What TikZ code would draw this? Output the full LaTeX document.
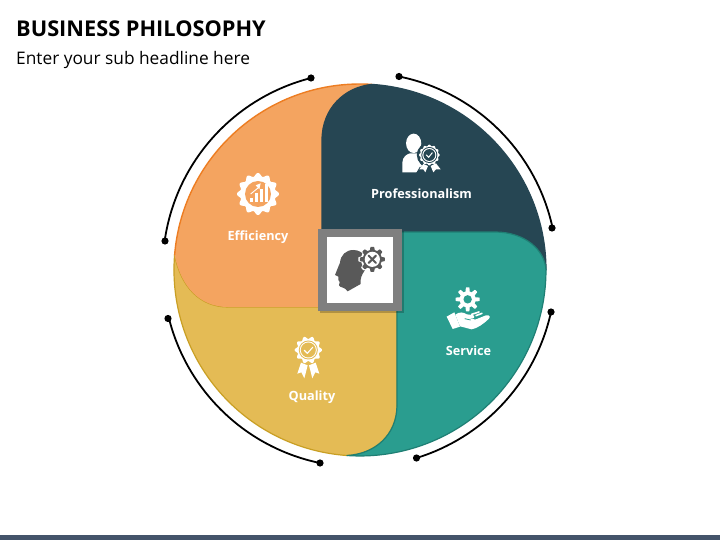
\documentclass[tikz,border=0pt]{standalone}
\usepackage{fontspec}
\setmainfont{Open Sans}
\definecolor{orangefill}{HTML}{F4A460}
\definecolor{orangeedge}{HTML}{ED7D22}
\definecolor{darkfill}{HTML}{264653}
\definecolor{tealfill}{HTML}{2A9D8F}
\definecolor{tealedge}{HTML}{1F7F74}
\definecolor{yellowfill}{HTML}{E4BB55}
\definecolor{yellowedge}{HTML}{C99F24}
\definecolor{iconGray}{HTML}{595959}
\definecolor{frameGray}{HTML}{7F7F7F}
\definecolor{barblue}{HTML}{44546A}
\tikzset{
  petal/.style={line width=1.2pt,line join=round},
  ringarc/.style={line width=1.8pt,black},
  ringdot/.style={circle,fill=black,inner sep=0pt,minimum size=7.2pt},
  petallabel/.style={text=white,font=\fontsize{12.7}{15}\selectfont\bfseries},
  iconzoom/.style={x=0.3333pt,y=-0.3333pt}
}
\newcommand{\mygear}[7]{% cx cy R a n color phase
  \fill[#6,shift={(#1,#2)}] plot[domain=0:360,samples=241,smooth] (\x:{#3+#4*min(1,max(-1,2.2*cos(#5*\x+#7)))}) -- cycle;}
\newcommand{\myrosette}[6]{% cx cy R a n color
  \fill[#6,shift={(#1,#2)}] plot[domain=0:360,samples=181,smooth] (\x:{#3+#4*cos(#5*\x)}) -- cycle;}
\begin{document}
\begin{tikzpicture}[x=1pt,y=1pt]
\useasboundingbox (0,0) rectangle (720,-540);
\fill[white] (0,0) rectangle (720,-540);
\fill[barblue] (0,-535) rectangle (720,-540);
\coordinate (c) at (360,-270);
\node[anchor=west,inner sep=0pt,font=\fontsize{21.75}{24}\selectfont\bfseries] (title) at (16,-28.5) {BUSINESS PHILOSOPHY};
\node[anchor=west,inner sep=0pt,font=\fontsize{17.3}{20}\selectfont] (sub) at (16,-60) {Enter your sub headline here};

% petals
\draw[petal,fill=yellowfill,draw=yellowedge]
  (174.6,-255) .. controls (181,-287) and (200,-307) .. (228,-307) -- (397,-307) -- (397,-405)
  .. controls (397,-435) and (375,-454) .. (347,-455.5)
  arc[start angle=266,end angle=175.4,radius=186];
\fill[orangefill]
  (174.6,-255) .. controls (181,-287) and (200,-307) .. (228,-307) -- (322,-307) -- (322,-140)
  .. controls (322,-108) and (345,-87) .. (372,-84.4)
  arc[start angle=86.3,end angle=175.4,radius=186] -- cycle;
\draw[line width=1.4pt,orangeedge] (372,-84.4) arc[start angle=86.3,end angle=175.4,radius=186];
\draw[petal,fill=darkfill,draw=darkfill]
  (372,-84.4) arc[start angle=86.3,end angle=0,radius=186]
  .. controls (545,-250) and (525,-232) .. (495,-232) -- (322,-232) -- (322,-140)
  .. controls (322,-108) and (345,-87) .. (372,-84.4) -- cycle;
\draw[petal,fill=tealfill,draw=tealedge]
  (546,-270) .. controls (545,-250) and (525,-232) .. (495,-232) -- (397,-232) -- (397,-405)
  .. controls (397,-435) and (375,-454) .. (347,-455.5)
  arc[start angle=266,end angle=360,radius=186] -- cycle;

% outer ring pieces
\node[ringdot] (o1) at (311,-78) {};
\node[ringdot] (o2) at (165,-241) {};
\node[ringdot] (d1) at (399,-76.5) {};
\node[ringdot] (d2) at (552,-228) {};
\node[ringdot] (t1) at (551,-312) {};
\node[ringdot] (t2) at (416.5,-458) {};
\node[ringdot] (y1) at (320,-463) {};
\node[ringdot] (y2) at (168,-318.5) {};
\draw[ringarc] (o1.center) arc[start angle=104.3,end angle=171.5,radius=197];
\draw[ringarc] (d1.center) arc[start angle=78.6,end angle=12.3,radius=197];
\draw[ringarc] (t1.center) arc[start angle=-12.4,end angle=-73.4,radius=197];
\draw[ringarc] (y1.center) arc[start angle=-101.7,end angle=-166,radius=197];

% labels
\node[petallabel] (eff) at (258,-237.5) {Efficiency};
\node[petallabel] (pro) at (421.5,-193.5) {Professionalism};
\node[petallabel] (ser) at (468.5,-350.5) {Service};
\node[petallabel] (qua) at (312,-397.5) {Quality};

% centre square
\fill[black,opacity=.22] (320,-231) rectangle (404,-313);
\fill[frameGray] (318,-229) rectangle (402,-311);
\fill[white] (327,-237) rectangle (393,-303);
\begin{scope}[shift={(310,-220)},iconzoom]
  \fill[iconGray] (130,90) .. controls (108,90) and (92,105) .. (90,128)
    -- (75,165) -- (85,170) -- (85,180) -- (89,186) -- (87,196)
    .. controls (90,204) and (105,200) .. (113,214)
    -- (152,192) .. controls (150,175) and (155,165) .. (165,150)
    .. controls (178,125) and (165,90) .. (130,90) -- cycle;
  \mygear{187}{118}{38}{4}{8}{white}{0}
  \mygear{187}{118}{33}{4.5}{8}{iconGray}{0}
  \fill[white,shift={(187,118)}] (0,0) circle[radius=7.6pt];
  \draw[iconGray,line width=2pt,line cap=round] (176,107) -- (198,129) (198,107) -- (176,129);
\end{scope}

% professionalism icon
\begin{scope}[shift={(380,-120)},iconzoom]
  \fill[white] (101,70) ellipse[x radius=7.6pt,y radius=9.7pt];
  \fill[white] (67,157) -- (67,128) .. controls (68,110) and (80,103) .. (90,100)
    -- (112,100) .. controls (116,102) and (118,104) .. (120,108)
    -- (118,125) -- (126,137) -- (112,157) -- cycle;
  \fill[darkfill] (120,140) -- (108,160) -- (135,160) -- cycle;
  \fill[darkfill,shift={(148,105)}] (0,0) circle[radius=12.5pt];
  \myrosette{148}{105}{29}{2}{12}{white}
  \fill[darkfill,shift={(148,105)}] (0,0) circle[radius=8pt];
  \fill[white,shift={(148,105)}] (0,0) circle[radius=7pt];
  \fill[darkfill,shift={(148,105)}] (0,0) circle[radius=5.9pt];
  \draw[white,line width=1pt,line cap=round,line join=round] (139,105) -- (146,112) -- (157,98);
  \fill[white] (130,132) -- (118,148) -- (130,148) -- (136,157) -- (144,138) -- cycle;
  \fill[white] (152,138) -- (160,157) -- (168,148) -- (182,148) -- (168,130) -- cycle;
\end{scope}

% efficiency icon
\begin{scope}[shift={(220,-160)},iconzoom]
  \myrosette{114}{102}{58}{5}{12}{white}
  \fill[orangefill,shift={(114,102)}] (0,0) circle[radius=13pt];
  \fill[white] (90,114) rectangle (100,127);
  \fill[white] (105,100) rectangle (115,127);
  \fill[white] (120,88) rectangle (130,127);
  \fill[white] (135,72) rectangle (145,127);
  \draw[white,line width=.9pt] (92,102) -- (114,84);
  \fill[white] (122,70) -- (107,76) -- (118,88) -- cycle;
\end{scope}

% service icon
\begin{scope}[shift={(430,-280)},iconzoom]
  \mygear{113}{58}{30}{6}{8}{white}{0}
  \fill[tealfill,shift={(113,58)}] (0,0) circle[radius=4.2pt];
  \fill[white] (50,110) -- (73,97) -- (90,140) -- (68,147) -- cycle;
  \fill[white] (76,104) .. controls (88,95) and (100,96) .. (110,103) -- (128,105)
     .. controls (136,107) and (134,116) .. (125,116) -- (112,117)
     -- (138,118) -- (168,106) .. controls (180,104) and (182,112) .. (176,117)
     .. controls (160,132) and (142,145) .. (125,148) -- (90,139) -- cycle;
  \draw[tealfill,line width=.8pt] (104,116) -- (122,120);
  \draw[white,line width=1.6pt,line cap=round] (125,103) -- (147,96) (138,107) -- (156,100);
\end{scope}

% quality icon
\begin{scope}[shift={(275,-330)},iconzoom]
  \myrosette{100}{60}{37}{4}{10}{white}
  \fill[yellowfill,shift={(100,60)}] (0,0) circle[radius=9.5pt];
  \fill[white,shift={(100,60)}] (0,0) circle[radius=8.5pt];
  \fill[yellowfill,shift={(100,60)}] (0,0) circle[radius=7.5pt];
  \draw[white,line width=1.1pt,line cap=round,line join=round] (88,61) -- (97,70) -- (113,52);
  \fill[white] (78,98) -- (67,131) -- (79,127) -- (88,145) -- (98,106) -- cycle;
  \fill[white] (122,98) -- (133,131) -- (121,127) -- (112,145) -- (102,106) -- cycle;
\end{scope}
\end{tikzpicture}
\end{document}
